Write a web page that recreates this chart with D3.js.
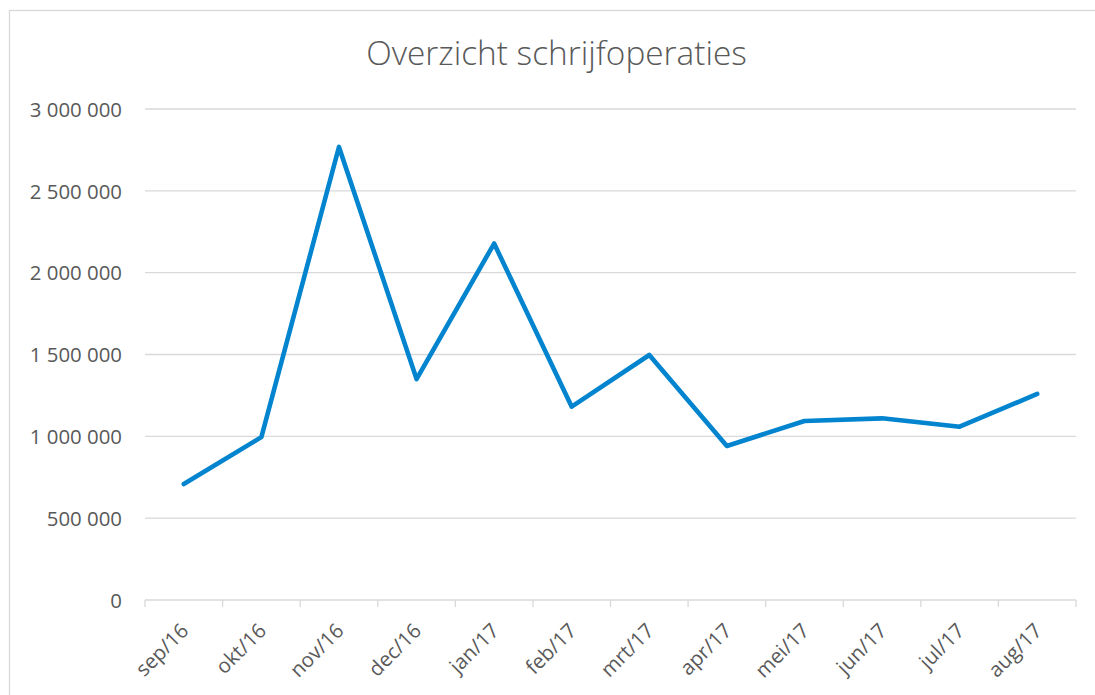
<!DOCTYPE html>
<html><head><meta charset="utf-8">
<script src="https://cdn.jsdelivr.net/npm/d3@7"></script>
<style>html,body{margin:0;padding:0;background:#fff;}svg{display:block;}</style>
</head><body>
<svg id="chart" width="1095" height="695"></svg>
<script>
const categories = ["sep/16","okt/16","nov/16","dec/16","jan/17","feb/17","mrt/17","apr/17","mei/17","jun/17","jul/17","aug/17"];
const values = [709000, 995000, 2768000, 1350000, 2178000, 1181000, 1497000, 941000, 1094000, 1110000, 1059000, 1259000];
const yTicks = [0, 500000, 1000000, 1500000, 2000000, 2500000, 3000000];
const title = "Overzicht schrijfoperaties";

const svg = d3.select("#chart");
const W = 1095, H = 695;
const m = {left: 145, right: 1076, top: 109, bottom: 600};
const textColor = "#595959", gridColor = "#d9d9d9", lineColor = "#0284cf";
const font = "'Open Sans', 'Noto Sans', sans-serif";

svg.append("rect").attr("width", W).attr("height", H).attr("fill", "#fff");
// chart border (extends beyond right/bottom)
svg.append("rect").attr("x", 9.5).attr("y", 10.5).attr("width", 1200).attr("height", 800)
  .attr("fill", "none").attr("stroke", gridColor).attr("stroke-width", 1.3);

const x = d3.scaleBand().domain(categories).range([m.left, m.right]).padding(0);
const y = d3.scaleLinear().domain([0, 3000000]).range([m.bottom, m.top]);

const fmt = v => d3.format(",")(v).replace(/,/g, " ");

// gridlines
svg.append("g").selectAll("line").data(yTicks.filter(d => d > 0)).join("line")
  .attr("x1", m.left).attr("x2", m.right)
  .attr("y1", d => y(d)).attr("y2", d => y(d))
  .attr("stroke", gridColor).attr("stroke-width", 1.3);

// y axis labels
const yAxis = d3.axisLeft(y).tickValues(yTicks).tickFormat(fmt).tickSize(0).tickPadding(23);
const gy = svg.append("g").attr("transform", `translate(${m.left},0)`).call(yAxis);
gy.select(".domain").remove();
gy.selectAll("text").attr("fill", textColor).attr("font-family", font).attr("font-size", 20.4)
  .attr("dy", "0.357em");

// x axis
const xAxis = d3.axisBottom(x).tickSize(0).tickFormat(d => d);
const gx = svg.append("g").attr("transform", `translate(0,${m.bottom})`).call(xAxis);
gx.select(".domain").remove();
gx.selectAll(".tick line").remove();
gx.append("line").attr("x1", m.left).attr("x2", m.right).attr("y1", 0).attr("y2", 0)
  .attr("stroke", gridColor).attr("stroke-width", 1.3);
const bounds = categories.map(c => x(c)).concat([m.right]);
gx.selectAll("line.tk").data(bounds).join("line").attr("class", "tk")
  .attr("x1", d => d).attr("x2", d => d).attr("y1", 0).attr("y2", 7)
  .attr("stroke", gridColor).attr("stroke-width", 1.3);
gx.selectAll(".tick text")
  .attr("fill", textColor).attr("font-family", font).attr("font-size", 20.4)
  .attr("text-anchor", "end")
  .attr("y", 0).attr("dy", "0.35em")
  .attr("transform", "translate(1,27) rotate(-45)");

// line
const line = d3.line().x((d, i) => x(categories[i]) + x.bandwidth() / 2).y(d => y(d));
svg.append("path").datum(values).attr("d", line)
  .attr("fill", "none").attr("stroke", lineColor).attr("stroke-width", 4.6)
  .attr("stroke-linejoin", "round").attr("stroke-linecap", "round");

// title
const t = svg.append("text").text(title).attr("x", (365 + 748) / 2).attr("y", 65)
  .attr("text-anchor", "middle").attr("fill", textColor).attr("font-family", font)
  .attr("font-weight", 300).attr("font-size", 28);
const len = t.node().getComputedTextLength();
if (len > 0) t.attr("font-size", 28 * 381 / len);
</script>
</body></html>
